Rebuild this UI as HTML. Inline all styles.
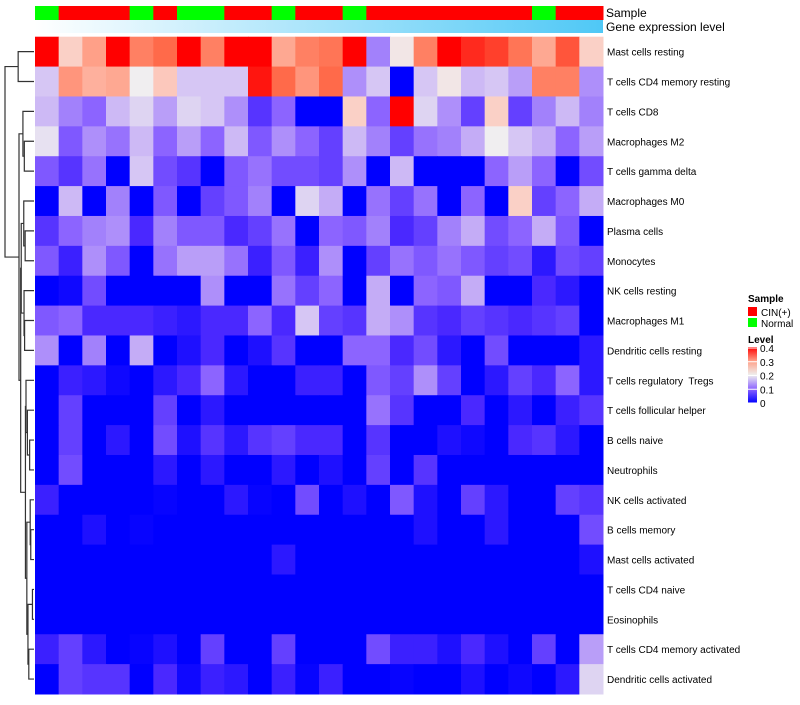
<!DOCTYPE html>
<html><head><meta charset="utf-8"><style>
body{margin:0;background:#fff;}
svg text{font-family:"Liberation Sans",sans-serif;fill:#000;white-space:pre;}
</style></head><body>
<svg id="chart" width="800" height="700" xmlns="http://www.w3.org/2000/svg">
<defs>
<linearGradient id="gexp" x1="0" x2="1" y1="0" y2="0"><stop offset="0" stop-color="#ffffff"/><stop offset="1" stop-color="#4fc8f6"/></linearGradient>
<linearGradient id="lvl" x1="0" x2="0" y1="1" y2="0">
<stop offset="0" stop-color="#0000ff"/><stop offset="0.25" stop-color="#8c64ff"/><stop offset="0.5" stop-color="#eeeeee"/><stop offset="0.75" stop-color="#ffa088"/><stop offset="1" stop-color="#ff0000"/></linearGradient>
</defs>
<g id="cells"></g>
<g id="annot"></g>
<rect x="35" y="20" width="568" height="13" fill="url(#gexp)"/>
<text x="606" y="17" font-size="12">Sample</text>
<text x="606" y="31" font-size="12">Gene expression level</text>
<g id="rowlabels"></g>
<g id="dendro" stroke="#333" stroke-width="1.2" fill="none"></g>
<g>
<text x="748" y="302" font-size="10" font-weight="bold">Sample</text>
<rect x="748" y="307" width="9" height="9" fill="#ff0000"/>
<text x="761" y="316" font-size="10">CIN(+)</text>
<rect x="748" y="318" width="9" height="9" fill="#00ff00"/>
<text x="761" y="327" font-size="10">Normal</text>
<text x="748" y="343" font-size="10" font-weight="bold">Level</text>
<rect x="748" y="347" width="9" height="56" fill="url(#lvl)"/>
<g id="lvlticks"></g>
</g>
</svg>
<script>
const rowNames=["Mast cells resting","T cells CD4 memory resting","T cells CD8","Macrophages M2","T cells gamma delta","Macrophages M0","Plasma cells","Monocytes","NK cells resting","Macrophages M1","Dendritic cells resting","T cells regulatory  Tregs","T cells follicular helper","B cells naive","Neutrophils","NK cells activated","B cells memory","Mast cells activated","T cells CD4 naive","Eosinophils","T cells CD4 memory activated","Dendritic cells activated"];
const sampleGroups="NCCCNCNNCCNCCNCCCCCCCNCC".split("");
const levelTicks=[0,0.1,0.2,0.3,0.4];
const r0=[0.4,0.24,0.3,0.4,0.33,0.35,0.4,0.33,0.4,0.4,0.29,0.33,0.34,0.4,0.12,0.21,0.33,0.4,0.38,0.37,0.34,0.29,0.36,0.24];
const r1=[0.17,0.31,0.28,0.29,0.2,0.25,0.17,0.17,0.17,0.39,0.35,0.31,0.35,0.13,0.17,0,0.17,0.21,0.16,0.17,0.14,0.33,0.33,0.13];
const r2=[0.16,0.12,0.1,0.16,0.18,0.14,0.18,0.17,0.13,0.06,0.1,0,0,0.24,0.1,0.4,0.18,0.13,0.07,0.24,0.07,0.12,0.16,0.12];
const r3=[0.19,0.09,0.13,0.11,0.16,0.1,0.14,0.1,0.16,0.09,0.13,0.1,0.07,0.16,0.12,0.07,0.11,0.12,0.15,0.2,0.17,0.15,0.1,0.14];
const r4=[0.09,0.06,0.11,0,0.17,0.08,0.06,0,0.09,0.11,0.08,0.08,0.07,0.13,0,0.16,0,0,0,0.1,0.14,0.1,0,0.08];
const r5=[0,0.16,0,0.12,0,0.09,0,0.07,0.09,0.12,0,0.18,0.15,0,0.11,0.07,0.11,0,0.1,0,0.24,0.07,0.1,0.15];
const r6=[0.06,0.1,0.12,0.13,0.05,0.12,0.09,0.09,0.05,0.07,0.11,0,0.1,0.09,0.12,0.05,0.07,0.12,0.15,0.08,0.1,0.15,0.09,0];
const r7=[0.09,0.04,0.13,0.09,0,0.11,0.14,0.14,0.11,0.04,0.09,0.04,0.13,0,0.07,0.11,0.09,0.11,0.09,0.07,0.08,0.03,0.08,0.07];
const r8=[0,0.01,0.08,0,0,0,0,0.13,0,0,0.11,0.07,0.1,0,0.15,0,0.1,0.09,0.15,0,0,0.05,0.03,0];
const r9=[0.09,0.1,0.05,0.05,0.05,0.04,0.03,0.05,0.05,0.1,0.05,0.17,0.07,0.06,0.15,0.13,0.06,0.05,0.07,0.06,0.05,0.06,0.07,0];
const r10=[0.13,0,0.12,0,0.15,0,0.02,0.05,0,0.02,0.06,0,0,0.1,0.1,0.05,0.08,0.03,0,0.08,0,0,0,0.03];
const r11=[0,0.04,0.03,0.01,0,0.03,0.05,0.1,0.03,0,0,0.04,0.04,0,0.09,0.07,0.13,0.07,0,0.03,0.07,0.05,0.1,0.03];
const r12=[0,0.07,0,0,0,0.07,0,0.03,0,0,0,0,0,0,0.11,0.06,0,0,0.05,0,0.03,0,0.04,0.06];
const r13=[0,0.07,0,0.03,0,0.08,0.02,0.06,0.03,0.06,0.07,0.05,0.05,0,0.06,0,0,0.02,0.01,0,0.05,0.06,0.03,0];
const r14=[0,0.08,0,0,0,0.03,0,0.03,0,0,0.03,0,0.02,0,0.07,0,0.06,0,0,0,0,0,0,0];
const r15=[0.04,0,0,0,0,0.005,0,0,0.03,0.005,0,0.08,0,0.02,0,0.09,0.02,0,0.07,0.03,0,0,0.07,0.06];
const r16=[0,0,0.02,0,0.005,0,0,0,0,0,0,0,0,0,0,0,0.02,0,0,0.03,0,0,0,0.08];
const r17=[0,0,0,0,0,0,0,0,0,0,0.03,0,0,0,0,0,0,0,0,0,0,0,0,0.02];
const r18=[0,0,0,0,0,0,0,0,0,0,0,0,0,0,0,0,0,0,0,0,0,0,0,0];
const r19=[0,0,0,0,0,0,0,0,0,0,0,0,0,0,0,0,0,0,0,0,0,0,0,0];
const r20=[0.04,0.07,0.03,0,0.005,0.02,0,0.07,0,0,0.07,0,0,0,0.08,0.04,0.04,0.02,0.05,0.02,0,0.07,0,0.14];
const r21=[0,0.07,0.06,0.06,0,0.05,0.01,0.04,0.03,0,0.04,0.005,0.04,0,0,0.005,0,0,0.02,0,0.01,0,0.03,0.18];
const matrix=[r0,r1,r2,r3,r4,r5,r6,r7,r8,r9,r10,r11,r12,r13,r14,r15,r16,r17,r18,r19,r20,r21];
const dendroTree=[[0,1,0.53],[[2,[3,4,0.31],0.36],[[[5,[6,7,0.28],0.33],[8,[9,10,0.3],0.32],0.42],[[11,[12,[13,14,0.12],0.2],0.25],[[15,[16,17,0.08],0.1],[[18,19,0.02],[20,21,0.15],0.18],0.22],0.27],0.44],0.5],1.0];

const NS="http://www.w3.org/2000/svg";
const X0=35,X1=603,Y0=36.7,Y1=694;
const nC=r0.length,nR=matrix.length;
const cw=(X1-X0)/nC,rh=(Y1-Y0)/nR;
const xPos=c=>X0+c*cw, yPos=r=>Y0+r*rh;
const stops=[[0,[0,0,255]],[0.05,[74,40,255]],[0.1,[140,100,255]],[0.15,[196,172,246]],[0.2,[240,238,240]],[0.25,[252,200,188]],[0.3,[255,160,136]],[0.35,[255,106,74]],[0.4,[255,0,0]]];
function color(v){v=Math.max(0,Math.min(0.4,v));for(let i=1;i<stops.length;i++){if(v<=stops[i][0]){const a=stops[i-1],b=stops[i],t=(v-a[0])/(b[0]-a[0]);return "rgb("+a[1].map((x,k)=>Math.round(x+(b[1][k]-x)*t)).join(",")+")";}}return "rgb(255,0,0)";}
const cells=document.getElementById('cells');
matrix.forEach((row,r)=>row.forEach((v,c)=>{
 const el=document.createElementNS(NS,'rect');
 el.setAttribute('x',xPos(c));el.setAttribute('y',yPos(r));
 el.setAttribute('width',cw+0.5);el.setAttribute('height',rh+0.5);
 el.setAttribute('fill',color(v));
 
 
 cells.appendChild(el);
}));
const annot=document.getElementById('annot');
sampleGroups.forEach((g,c)=>{
 const el=document.createElementNS(NS,'rect');
 el.setAttribute('x',xPos(c));el.setAttribute('y',6);el.setAttribute('width',cw+0.5);el.setAttribute('height',14);
 el.setAttribute('fill',g==="C"?"#ff0000":"#00ff00");
 
 
 annot.appendChild(el);
});
const rl=document.getElementById('rowlabels');
rowNames.forEach((n,r)=>{
 const t=document.createElementNS(NS,'text');
 t.setAttribute('x',607);t.setAttribute('y',yPos(r)+rh/2+4);t.setAttribute('font-size','10');
 t.textContent=n;
 
 
 rl.appendChild(t);
});
const lt=document.getElementById('lvlticks');
levelTicks.forEach(v=>{
 const y=403-(v/0.4)*55;
 const l=document.createElementNS(NS,'line');
 l.setAttribute('x1',748);l.setAttribute('x2',757);l.setAttribute('y1',y);l.setAttribute('y2',y);l.setAttribute('stroke','#fff');
 
 
 lt.appendChild(l);
 const t=document.createElementNS(NS,'text');
 t.setAttribute('x',760);t.setAttribute('y',y+4);t.setAttribute('font-size','10');t.textContent=String(v);
 
 
 lt.appendChild(t);
});
const dg=document.getElementById('dendro');
const hx=h=>33-h*28;
function draw(node){
 if(typeof node==="number") return {x:34,y:yPos(node)+rh/2};
 const a=draw(node[0]),b=draw(node[1]),x=hx(node[2]);
 const p=document.createElementNS(NS,'path');
 p.setAttribute('d',`M${a.x},${a.y}H${x}V${b.y}H${b.x}`);
 
 
 dg.appendChild(p);
 return {x:x,y:(a.y+b.y)/2};
}
draw(dendroTree);
</script>
</body></html>
